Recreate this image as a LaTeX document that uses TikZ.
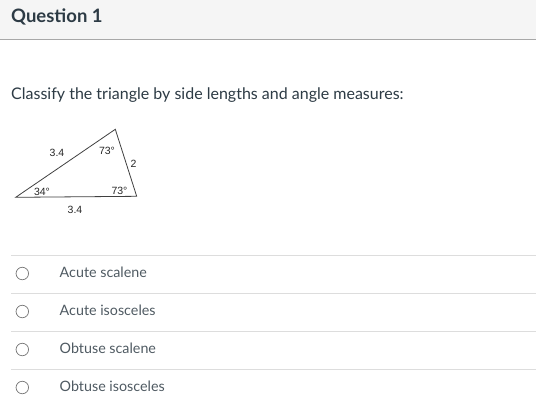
\documentclass[tikz,border=0pt]{standalone}
\usepackage{fontspec}
\setmainfont{Lato}
\newfontfamily\arialf{Liberation Sans}
\definecolor{hdrbg}{HTML}{F5F5F5}
\definecolor{hdrline}{HTML}{A8A8A8}
\definecolor{titlec}{HTML}{2D3B45}
\definecolor{ansc}{HTML}{4F5A62}
\definecolor{sepc}{HTML}{DDDDDD}
\definecolor{radioc}{HTML}{777777}
\tikzset{
  tri/.style={draw=black!75, line width=0.8pt},
  trilbl/.style={font=\arialf\fontsize{10.5}{11}\selectfont, text=black!85, inner sep=0pt},
  ans/.style={font=\fontsize{14.3}{16}\selectfont, text=ansc, anchor=west, inner sep=0pt},
  radio/.style={draw=radioc, line width=0.7pt, circle, minimum size=12.5pt, inner sep=0pt},
  sep/.style={draw=sepc, line width=1pt},
}
\begin{document}
\begin{tikzpicture}[x=1pt,y=-1pt]
\useasboundingbox (0,0) rectangle (536,413);
\fill[white] (0,0) rectangle (536,413);
\fill[hdrbg] (0,0) rectangle (536,39);
\draw[hdrline, line width=1.2pt] (0,39.3) -- (536,39.3);
\node[anchor=base west, inner sep=0pt, font=\bfseries\fontsize{18.5}{22}\selectfont, text=titlec] (title) at (11,22.7) {Question 1};
\node[anchor=base west, inner sep=0pt, font=\fontsize{16}{18}\selectfont, text=titlec] (q) at (11,99) {Classify the triangle by side lengths and angle measures:};
% triangle
\coordinate (A) at (15.7,197.3);
\coordinate (B) at (115.3,129.3);
\coordinate (C) at (136.7,196.3);
\draw[tri] (A) -- (B) -- (C) -- cycle;
\node[trilbl] (l1) at (57,153) {3.4};
\node[trilbl] (l2) at (107,150.5) {73°};
\node[trilbl] (l3) at (133.5,164) {2};
\node[trilbl] (l4) at (42,191.5) {34°};
\node[trilbl] (l5) at (119.5,190.5) {73°};
\node[trilbl] (l6) at (75,209.5) {3.4};
% answers
\foreach \y/\t/\n in {255.5/Acute scalene/a, 293.5/Acute isosceles/b, 331.5/Obtuse scalene/c, 369.5/Obtuse isosceles/d}{
  \coordinate (s\n L) at (11,\y);
  \coordinate (s\n R) at (536,\y);
  \draw[sep] (s\n L) -- (s\n R);
  \node[radio] (r\n) at (22.3,\y+18) {};
  \node[ans] (t\n) at (59.5,\y+17) {\t};
}
\end{tikzpicture}
\end{document}
